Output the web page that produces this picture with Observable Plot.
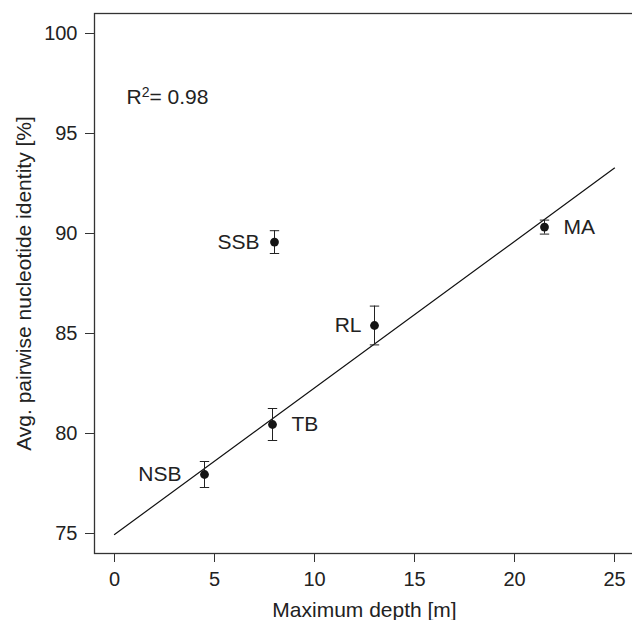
<!DOCTYPE html>
<html>
<head>
<meta charset="utf-8">
<script src="https://cdn.jsdelivr.net/npm/d3@7"></script>
<script src="https://cdn.jsdelivr.net/npm/@observablehq/plot@0.6"></script>
<style>
  html, body { margin: 0; padding: 0; background: #fff; }
  #chart { width: 632px; height: 620px; overflow: hidden; }
</style>
</head>
<body>
<div id="chart"></div>
<script>
// ---- data ----
const sites = ["NSB", "TB", "RL", "SSB", "MA"];
const depth = [4.5, 7.9, 13.0, 8.0, 21.5];
const identity = [77.95, 80.45, 85.4, 89.57, 90.32];
const errorSize = [0.65, 0.8, 0.97, 0.57, 0.35];
const fitDepth = [0, 25];
const fitIdentity = [74.95, 93.27];
const xTicks = [0, 5, 10, 15, 20, 25];
const yTicks = [75, 80, 85, 90, 95, 100];
const xTitle = "Maximum depth [m]";
const yTitle = "Avg. pairwise nucleotide identity [%]";
const rSquaredParts = ["R", "2", "= 0.98"];

// ---- tables built from the arrays ----
const points = sites.map((s, i) => ({site: s, depth: depth[i], identity: identity[i], err: errorSize[i]}));
const fit = fitDepth.map((d, i) => ({depth: d, identity: fitIdentity[i]}));

const labelDx = {NSB: -23, TB: 19, RL: -13, SSB: -15, MA: 19};

const capSymbol = {
  draw(context, size) {
    const w = Math.sqrt(size / Math.PI);
    context.moveTo(-w, 0);
    context.lineTo(w, 0);
  }
};

const ink = "#222";

const chart = Plot.plot({
  width: 632,
  height: 620,
  marginLeft: 94,
  marginRight: -2,
  marginTop: 13,
  marginBottom: 67,
  style: {fontFamily: "'Liberation Sans', Arial, sans-serif", fontSize: "20px", color: ink, background: "#fff"},
  x: {domain: [-1, 26]},
  y: {domain: [74, 101]},
  marks: [
    Plot.frame({stroke: "#333", strokeWidth: 1.3}),
    Plot.axisX({ticks: xTicks, tickSize: 9, tickPadding: 9, label: null, stroke: "#333", tickFormat: d => String(d)}),
    Plot.axisY({ticks: yTicks, tickSize: 9, tickPadding: 8, label: null, stroke: "#333", tickFormat: d => String(d)}),
    Plot.text([xTitle], {frameAnchor: "bottom", dy: 57, lineAnchor: "middle", textAnchor: "middle", text: d => d, fontSize: 21, fill: ink}),
    Plot.text([yTitle], {frameAnchor: "left", dx: -70, rotate: -90, lineAnchor: "middle", textAnchor: "middle", text: d => d, fontSize: 21, fill: ink}),
    Plot.text([rSquaredParts.join("")], {
      frameAnchor: "top-left", dx: 32, dy: 84, lineAnchor: "middle", textAnchor: "start", text: d => d, fontSize: 21, fill: ink,
      render(index, scales, values, dimensions, context, next) {
        const g = next(index, scales, values, dimensions, context);
        d3.select(g).selectAll("text").each(function() {
          const t = d3.select(this);
          t.text(null);
          t.append("tspan").text(rSquaredParts[0]);
          t.append("tspan").attr("dy", -7).attr("font-size", "14px").text(rSquaredParts[1]);
          t.append("tspan").attr("dy", 7).text(rSquaredParts[2]);
        });
        return g;
      }
    }),
    Plot.line(fit, {x: "depth", y: "identity", stroke: "#111", strokeWidth: 1.2}),
    Plot.ruleX(points, {x: "depth", y1: d => d.identity - d.err, y2: d => d.identity + d.err, stroke: ink, strokeWidth: 1}),
    Plot.dot(points, {x: "depth", y: d => d.identity + d.err, symbol: capSymbol, r: 4.7, stroke: ink, strokeWidth: 1, fill: "none"}),
    Plot.dot(points, {x: "depth", y: d => d.identity - d.err, symbol: capSymbol, r: 4.7, stroke: ink, strokeWidth: 1, fill: "none"}),
    Plot.dot(points, {x: "depth", y: "identity", r: 4.4, fill: "#151515", stroke: "none"}),
    Plot.text(points, {
      x: "depth", y: "identity", text: "site",
      fontSize: 21, fill: ink, lineAnchor: "middle",
      render(index, scales, values, dimensions, context, next) {
        const g = next(index, scales, values, dimensions, context);
        d3.select(g).selectAll("text").each(function(i) {
          const p = points[i];
          const dx = labelDx[p.site];
          this.setAttribute("dx", dx);
          this.setAttribute("text-anchor", dx < 0 ? "end" : "start");
        });
        return g;
      }
    })
  ]
});
document.getElementById("chart").appendChild(chart);
</script>
</body>
</html>
